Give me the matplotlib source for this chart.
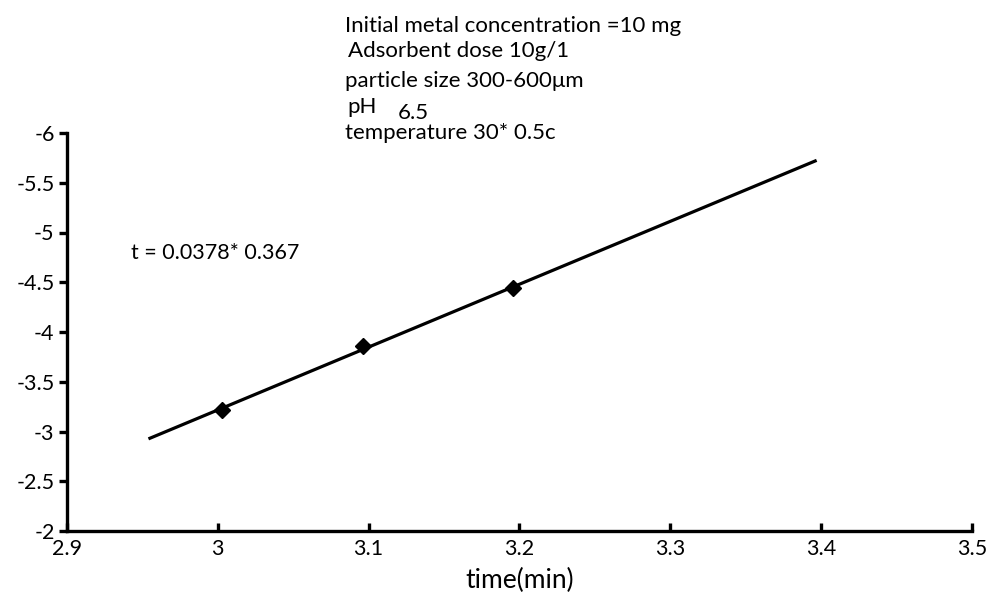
import matplotlib
matplotlib.use("Agg")
import matplotlib.pyplot as plt
import numpy as np

plt.rcParams['font.family'] = ['Lato', 'DejaVu Sans']

# Data
time_x = [3.003, 3.096, 3.196]
log_vals = [-3.215, -3.862, -4.445]
trend_x = [2.954, 3.397]
trend_y = [-2.926, -5.725]

x_ticks = [2.9, 3.0, 3.1, 3.2, 3.3, 3.4, 3.5]
x_tick_labels = ["2.9", "3", "3.1", "3.2", "3.3", "3.4", "3.5"]
y_ticks = [-2, -2.5, -3, -3.5, -4, -4.5, -5, -5.5, -6]
y_tick_labels = ["-2", "-2.5", "-3", "-3.5", "-4", "-4.5", "-5", "-5.5", "-6"]

W, H = 988, 597
fig = plt.figure(figsize=(W/100, H/100), dpi=100)
ax = fig.add_axes([67/W, 1-531/H, (972-67)/W, (531-133)/H])

ax.plot(trend_x, trend_y, color='black', lw=2.3, solid_capstyle='butt', zorder=2)
ax.plot(time_x, log_vals, linestyle='none', marker='D', color='black', markersize=8, zorder=3)

ax.set_xlim(2.9, 3.5)
ax.set_ylim(-2, -6)
ax.set_xticks(x_ticks)
ax.set_xticklabels(x_tick_labels)
ax.set_yticks(y_ticks)
ax.set_yticklabels(y_tick_labels)

for s in ['top', 'right']:
    ax.spines[s].set_visible(False)
for s in ['left', 'bottom']:
    ax.spines[s].set_linewidth(2.4)

ax.tick_params(axis='y', direction='out', length=6, width=2.4, labelsize=15.5, pad=3)
ax.tick_params(axis='x', direction='in', length=6, width=2.4, labelsize=15.5, pad=6)
ax.set_xlabel("time(min)", fontsize=19, labelpad=6)

def ftext(x, y, s, size=16):
    fig.text(x/W, 1-y/H, s, fontsize=size, va='baseline', ha='left')

ftext(345, 32, "Initial metal concentration =10 mg")
ftext(348, 57, "Adsorbent dose 10g/1")
ftext(345, 87, "particle size 300-600\u03bcm")
ftext(347, 113, "pH")
ftext(398, 119, "6.5")
ftext(345, 139, "temperature 30* 0.5c")
ftext(131, 259, "t = 0.0378* 0.367", size=15.5)

fig.savefig("out.png", dpi=100)
